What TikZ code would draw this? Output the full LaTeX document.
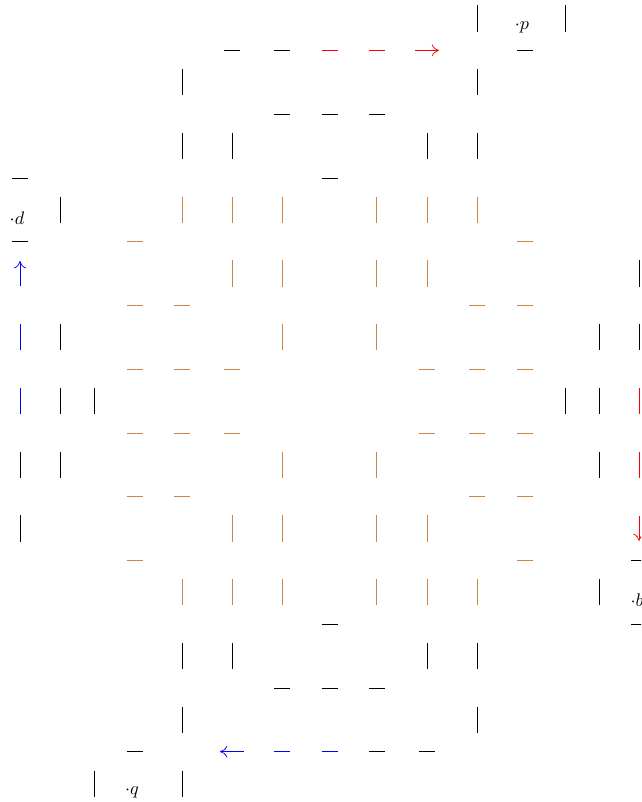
\documentclass[tikz,border=0pt]{standalone}
\usetikzlibrary{arrows.meta}
\definecolor{dimer}{RGB}{205,133,63}

\begin{document}
\begin{tikzpicture}[
    x=0.55pt, y=-17.53pt,
    seg/.style={line width=0.4pt},
    blackseg/.style={seg, black},
    dimerseg/.style={seg, dimer},
    redseg/.style={seg, red},
    blueseg/.style={seg, blue},
    headed/.style={-{To[length=4pt, width=6.6pt]}},
    lbl/.style={inner sep=0pt, anchor=north},
  ]
  \useasboundingbox (0,-0.5804) rectangle (641,24.5804);
  \clip (0,-0.5804) rectangle (641,24.5804);

  % horizontal pieces on odd rows, vertical pieces on even rows
  \foreach \r/\cols in {1/{232,282.2,524.5}, 3/{282.2,329.5,376.8}, 5/{20,329.5},
                        7/{20}, 17/{639}, 19/{329.5,639}, 21/{282.2,329.5,376.8},
                        23/{134.5,376.8,427}}
    \foreach \x in \cols \draw[blackseg] (\x-8,\r) -- (\x+8,\r);
  \foreach \r/\cols in {0/{477,565}, 2/{182,477}, 4/{182,232,427,477}, 6/{60},
                        8/{639}, 10/{60,599,639}, 12/{60,94,565,599},
                        14/{20,60,599}, 16/{20}, 18/{599}, 20/{182,232,427,477},
                        22/{182,477}, 24/{94,182}}
    \foreach \x in \cols \draw[blackseg] (\x,\r-0.408) -- (\x,\r+0.408);

  \foreach \r/\cols in {7/{134.5,524.5}, 9/{134.5,182,477,524.5},
                        11/{134.5,182,232,427,477,524.5},
                        13/{134.5,182,232,427,477,524.5},
                        15/{134.5,182,477,524.5}, 17/{134.5,524.5}}
    \foreach \x in \cols \draw[dimerseg] (\x-8,\r) -- (\x+8,\r);
  \foreach \r/\cols in {6/{182,232,282.2,376.8,427,477}, 8/{232,282.2,376.8,427},
                        10/{282.2,376.8}, 14/{282.2,376.8},
                        16/{232,282.2,376.8,427}, 18/{182,232,282.2,376.8,427,477}}
    \foreach \x in \cols \draw[dimerseg] (\x,\r-0.408) -- (\x,\r+0.408);

  \foreach \x in {329.5,376.8} \draw[redseg] (\x-8,1) -- (\x+8,1);
  \draw[redseg, headed] (415,1) -- (439,1);
  \foreach \r in {12,14} \draw[redseg] (639,\r-0.408) -- (639,\r+0.408);
  \draw[redseg, headed] (639,15.61) -- (639,16.39);

  \foreach \x in {282.2,329.5} \draw[blueseg] (\x-8,23) -- (\x+8,23);
  \draw[blueseg, headed] (244,23) -- (220,23);
  \foreach \r in {10,12} \draw[blueseg] (20,\r-0.408) -- (20,\r+0.408);
  \draw[blueseg, headed] (20,8.39) -- (20,7.61);

  \node[lbl] (p) at (522,0.07) {$\cdot p$};
  \node[lbl] (d) at (17,6.04) {$\cdot d$};
  \node[lbl] (b) at (637,18.04) {$\cdot b$};
  \node[lbl] (q) at (132,24.07) {$\cdot q$};
\end{tikzpicture}
\end{document}
